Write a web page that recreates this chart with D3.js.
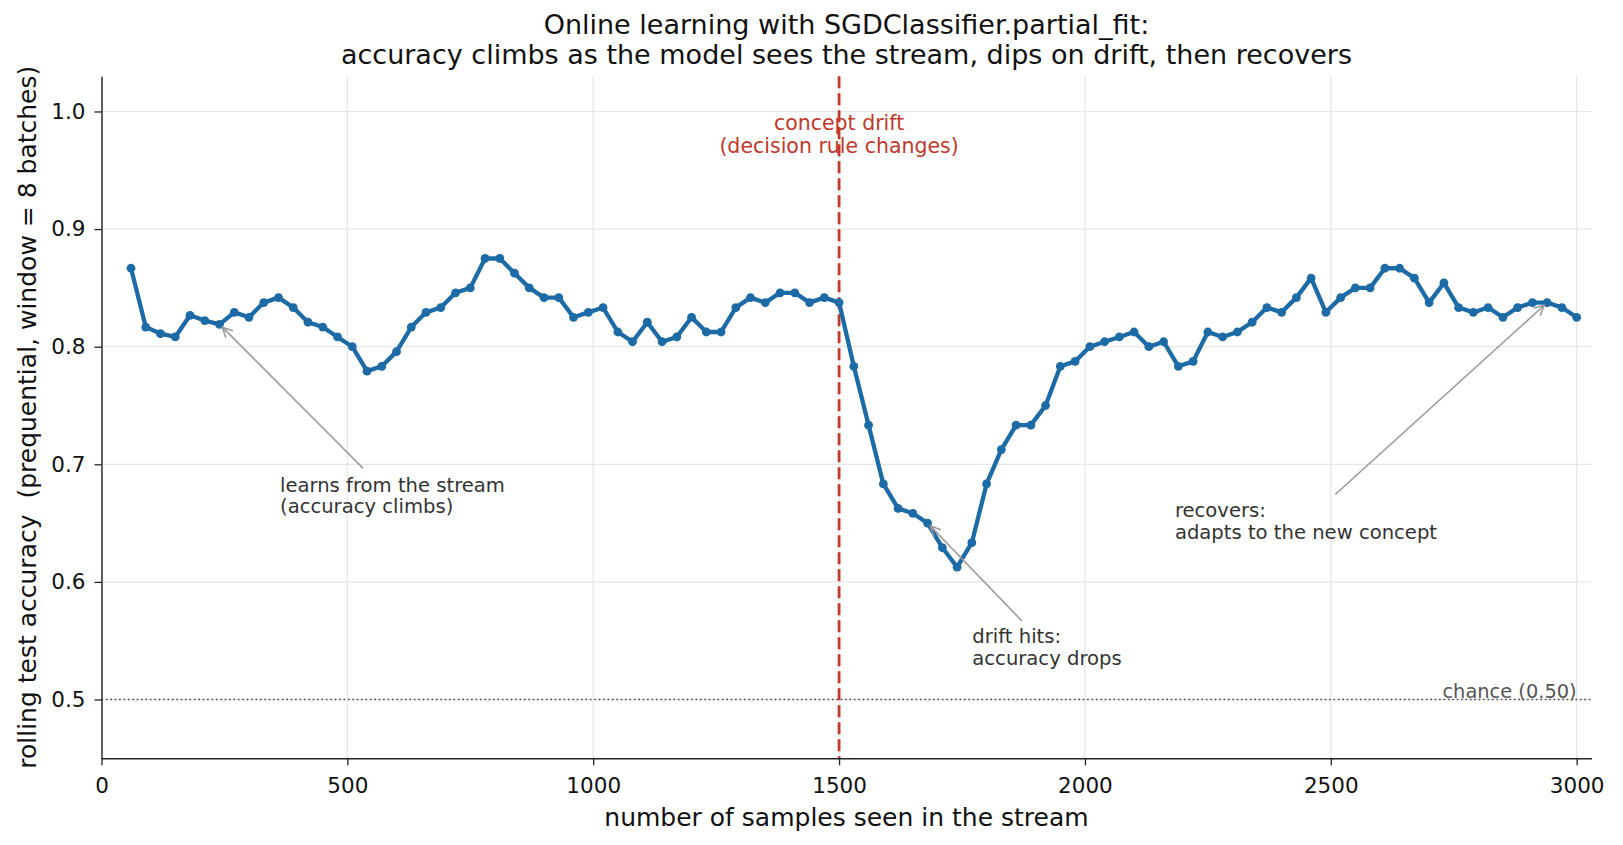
<!DOCTYPE html>
<html>
<head>
<meta charset="utf-8">
<script src="https://cdn.jsdelivr.net/npm/d3@7/dist/d3.min.js"></script>
<style>
  body { margin: 0; background: #fff; }
  svg { display: block; font-family: "DejaVu Sans", sans-serif; }
</style>
</head>
<body>
<script>
// samples seen in the stream at each evaluation
var samples = [60, 90, 120, 150, 180, 210, 240, 270, 300, 330,
               360, 390, 420, 450, 480, 510, 540, 570, 600, 630,
               660, 690, 720, 750, 780, 810, 840, 870, 900, 930,
               960, 990, 1020, 1050, 1080, 1110, 1140, 1170, 1200, 1230,
               1260, 1290, 1320, 1350, 1380, 1410, 1440, 1470, 1500, 1530,
               1560, 1590, 1620, 1650, 1680, 1710, 1740, 1770, 1800, 1830,
               1860, 1890, 1920, 1950, 1980, 2010, 2040, 2070, 2100, 2130,
               2160, 2190, 2220, 2250, 2280, 2310, 2340, 2370, 2400, 2430,
               2460, 2490, 2520, 2550, 2580, 2610, 2640, 2670, 2700, 2730,
               2760, 2790, 2820, 2850, 2880, 2910, 2940, 2970, 3000];

// rolling test accuracy (prequential, window = 8 batches)
var accuracy = [0.8667, 0.8167, 0.8111, 0.8083, 0.8267, 0.8222, 0.8190, 0.8292, 0.8250, 0.8375,
                0.8417, 0.8333, 0.8208, 0.8167, 0.8083, 0.8000, 0.7792, 0.7833, 0.7958, 0.8167,
                0.8292, 0.8333, 0.8458, 0.8500, 0.8750, 0.8750, 0.8625, 0.8500, 0.8417, 0.8417,
                0.8250, 0.8292, 0.8333, 0.8125, 0.8042, 0.8208, 0.8042, 0.8083, 0.8250, 0.8125,
                0.8125, 0.8333, 0.8417, 0.8375, 0.8458, 0.8458, 0.8375, 0.8417, 0.8375, 0.7833,
                0.7333, 0.6833, 0.6625, 0.6583, 0.6500, 0.6292, 0.6125, 0.6333, 0.6833, 0.7125,
                0.7333, 0.7333, 0.7500, 0.7833, 0.7875, 0.8000, 0.8042, 0.8083, 0.8125, 0.8000,
                0.8042, 0.7833, 0.7875, 0.8125, 0.8083, 0.8125, 0.8208, 0.8333, 0.8292, 0.8417,
                0.8583, 0.8292, 0.8417, 0.8500, 0.8500, 0.8667, 0.8667, 0.8583, 0.8375, 0.8542,
                0.8333, 0.8292, 0.8333, 0.8250, 0.8333, 0.8375, 0.8375, 0.8333, 0.8250];

var xTicks = [0, 500, 1000, 1500, 2000, 2500, 3000];
var yTicks = [0.5, 0.6, 0.7, 0.8, 0.9, 1.0];
var yTickLabels = ["0.5", "0.6", "0.7", "0.8", "0.9", "1.0"];

var driftAt = 1500;
var chanceLevel = 0.5;

var titleLines = ["Online learning with SGDClassifier.partial_fit:",
                  "accuracy climbs as the model sees the stream, dips on drift, then recovers"];
var xLabel = "number of samples seen in the stream";
var yLabel = "rolling test accuracy  (prequential, window = 8 batches)";
var driftLines = ["concept drift", "(decision rule changes)"];
var chanceText = "chance (0.50)";

// annotation texts and the sample each arrow points at
var noteLines = [["learns from the stream", "(accuracy climbs)"],
                 ["drift hits:", "accuracy drops"],
                 ["recovers:", "adapts to the new concept"]];
var noteTargets = [240, 1680, 2940];

// layout of the annotations, in data units
var noteText = [[363, 0.6767], [1771, 0.5477], [2183, 0.6554]];
var noteTail = [[532, 0.6966], [1872, 0.5667], [2509, 0.6743]];

// properties of the figure
var w = 1623;
var h = 845;
var start_w = 101.5;
var end_w = 1591.4;
var start_h = 76.2;
var end_h = 758.3;

var blue = "#1c6aa6";
var red = "#c0392b";

window.onload = function() {
  var scales = scale();
  drawChart(scales[0], scales[1]);
};

function scale() {
  var xScale = d3.scaleLinear()
                 .domain([0, 3030])
                 .range([start_w, end_w]);

  var yScale = d3.scaleLinear()
                 .domain([0.45, 1.03])
                 .range([end_h, start_h]);

  return [xScale, yScale];
}

function drawChart(xScale, yScale) {

  var svg = d3.select("body")
              .append("svg")
              .attr("width", w)
              .attr("height", h);

  svg.append("rect")
     .attr("width", w)
     .attr("height", h)
     .attr("fill", "#fff");

  // grid
  var grid = svg.append("g");
  grid.selectAll(".gx")
      .data(xTicks)
      .enter()
      .append("line")
      .attr("x1", function(d) { return xScale(d); })
      .attr("x2", function(d) { return xScale(d); })
      .attr("y1", start_h)
      .attr("y2", end_h)
      .attr("stroke", "#e6e6e6")
      .attr("stroke-width", 1.2);
  grid.selectAll(".gy")
      .data(yTicks)
      .enter()
      .append("line")
      .attr("x1", start_w)
      .attr("x2", end_w)
      .attr("y1", function(d) { return yScale(d); })
      .attr("y2", function(d) { return yScale(d); })
      .attr("stroke", "#e6e6e6")
      .attr("stroke-width", 1.2);

  // chance level
  svg.append("line")
     .attr("x1", start_w)
     .attr("x2", end_w)
     .attr("y1", yScale(chanceLevel))
     .attr("y2", yScale(chanceLevel))
     .attr("stroke", "#444")
     .attr("stroke-width", 1.3)
     .attr("stroke-dasharray", "1.6,2.8");

  svg.append("text")
     .attr("x", xScale(3000))
     .attr("y", yScale(0.5034) + 3)
     .attr("text-anchor", "end")
     .attr("font-size", 19.4)
     .attr("fill", "#555")
     .text(chanceText);

  // drift marker
  svg.append("text")
     .attr("text-anchor", "middle")
     .attr("font-size", 20.5)
     .attr("fill", red)
     .selectAll("tspan")
     .data(driftLines)
     .enter()
     .append("tspan")
     .attr("x", xScale(driftAt))
     .attr("y", function(d, i) { return yScale(0.9849) + 1 + i * 23; })
     .text(function(d) { return d; });

  svg.append("line")
     .attr("x1", xScale(driftAt))
     .attr("x2", xScale(driftAt))
     .attr("y1", start_h)
     .attr("y2", end_h)
     .attr("stroke", red)
     .attr("stroke-width", 2.8)
     .attr("stroke-dasharray", "12,5");

  // data line and points
  var points = samples.map(function(s, i) { return [s, accuracy[i]]; });

  var line = d3.line()
               .x(function(d) { return xScale(d[0]); })
               .y(function(d) { return yScale(d[1]); });

  svg.append("path")
     .datum(points)
     .attr("d", line)
     .attr("fill", "none")
     .attr("stroke", blue)
     .attr("stroke-width", 4.3)
     .attr("stroke-linejoin", "round");

  svg.selectAll(".pt")
     .data(points)
     .enter()
     .append("circle")
     .attr("cx", function(d) { return xScale(d[0]); })
     .attr("cy", function(d) { return yScale(d[1]); })
     .attr("r", 4.4)
     .attr("fill", blue);

  // annotations
  noteLines.forEach(function(lines, k) {
    var idx = samples.indexOf(noteTargets[k]);
    var px = xScale(samples[idx]);
    var py = yScale(accuracy[idx]);
    var tx = xScale(noteTail[k][0]);
    var ty = yScale(noteTail[k][1]);

    // shrink the arrow a little at the point
    var dx = tx - px;
    var dy = ty - py;
    var len = Math.sqrt(dx * dx + dy * dy);
    var ux = dx / len;
    var uy = dy / len;
    var hx = px + ux * 4;
    var hy = py + uy * 4;

    svg.append("line")
       .attr("x1", tx)
       .attr("y1", ty)
       .attr("x2", hx)
       .attr("y2", hy)
       .attr("stroke", "#999")
       .attr("stroke-width", 1.6);

    svg.append("polyline")
       .attr("points", [
         [hx + ux * 10 - uy * 5, hy + uy * 10 + ux * 5],
         [hx, hy],
         [hx + ux * 10 + uy * 5, hy + uy * 10 - ux * 5]
       ].map(function(p) { return p.join(","); }).join(" "))
       .attr("fill", "none")
       .attr("stroke", "#999")
       .attr("stroke-width", 1.6);

    svg.append("text")
       .attr("font-size", 19.6)
       .attr("fill", "#333")
       .selectAll("tspan")
       .data(lines)
       .enter()
       .append("tspan")
       .attr("x", xScale(noteText[k][0]))
       .attr("y", function(d, i) { return yScale(noteText[k][1]) + i * 21.8; })
       .text(function(d) { return d; });
  });

  // axes
  var xAxis = d3.axisBottom(xScale)
                .tickValues(xTicks)
                .tickFormat(d3.format("d"))
                .tickSize(7)
                .tickSizeOuter(0)
                .tickPadding(12);

  var yAxis = d3.axisLeft(yScale)
                .tickValues(yTicks)
                .tickFormat(function(d, i) { return yTickLabels[i]; })
                .tickSize(7)
                .tickSizeOuter(0)
                .tickPadding(9);

  var gx = svg.append("g")
              .attr("transform", "translate(0, " + end_h + ")")
              .call(xAxis);

  var gy = svg.append("g")
              .attr("transform", "translate(" + start_w + ", 0)")
              .call(yAxis);

  [gx, gy].forEach(function(g) {
    g.select(".domain").attr("stroke", "#222").attr("stroke-width", 1.4);
    g.selectAll(".tick line").attr("stroke", "#222").attr("stroke-width", 1.3);
    g.selectAll(".tick text")
     .attr("font-family", "DejaVu Sans, sans-serif")
     .attr("font-size", 21.5)
     .attr("fill", "#111");
  });

  // axis labels
  svg.append("text")
     .attr("x", (start_w + end_w) / 2)
     .attr("y", 826)
     .attr("text-anchor", "middle")
     .attr("font-size", 25)
     .attr("fill", "#111")
     .text(xLabel);

  svg.append("text")
     .attr("transform", "translate(36, " + (start_h + end_h) / 2 + ") rotate(-90)")
     .attr("text-anchor", "middle")
     .attr("font-size", 25)
     .attr("fill", "#111")
     .style("white-space", "pre")
     .text(yLabel);

  // title
  svg.append("text")
     .attr("text-anchor", "middle")
     .attr("font-size", 27)
     .attr("fill", "#111")
     .selectAll("tspan")
     .data(titleLines)
     .enter()
     .append("tspan")
     .attr("x", (start_w + end_w) / 2)
     .attr("y", function(d, i) { return 34 + i * 30; })
     .text(function(d) { return d; });
}
</script>
</body>
</html>
